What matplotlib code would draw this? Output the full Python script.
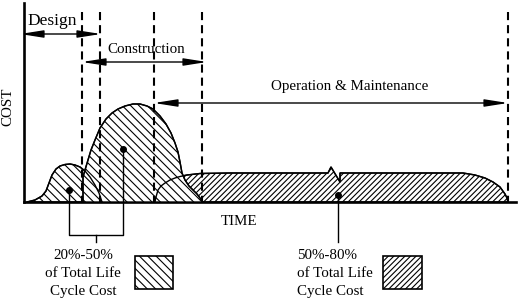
import matplotlib
matplotlib.use('Agg')
import matplotlib.pyplot as plt
from matplotlib.patches import Rectangle

plt.rcParams['font.family'] = ['Liberation Serif', 'DejaVu Serif']
plt.rcParams['hatch.linewidth'] = 0.8

# ---- data (schematic units: time, cost) ----
design_time = [3, 11, 18, 22, 25, 28, 32, 36, 41, 46, 51, 56, 61, 66, 71, 75, 78]
design_cost = [0, 2, 6, 11, 19, 27, 33, 36, 37.5, 38, 37, 35, 31, 25, 17, 9, 0]

constr_time = [59, 59, 61, 64, 67, 71, 76, 82, 88, 94, 101, 109, 116, 123, 129, 136,
               142, 147, 151, 154, 156, 158, 161, 165, 169, 173, 176, 179]
constr_cost = [0, 25, 32, 42, 52, 62, 74, 83, 89, 93, 96, 98, 98, 96, 93, 86,
               78, 69, 59, 50, 40, 29, 22, 16, 12, 8, 4, 0]

om_time = [131, 132, 134, 137, 141, 146, 151, 156, 163, 176, 206, 304, 307, 316, 316,
           439, 451, 461, 469, 476, 481, 483, 484]
om_cost = [0, 5, 12, 16, 19, 22, 24, 25.5, 27, 28.5, 29, 29, 35, 20, 29,
           29, 27, 24, 20, 15, 8, 4, 0]

phase_bounds = [58, 76, 130, 178, 484]
dot_time = [45, 99, 314]
dot_cost = [12, 53, 7]

phase_labels = ['Design', 'Construction', 'Operation & Maintenance']
share_labels = ['20%-50%', '50%-80%']

HATCH_EARLY = '\\' * 4
HATCH_OM = '/' * 6

W, H = 523, 304
fig = plt.figure(figsize=(W / 100, H / 100), dpi=100)

ax = fig.add_axes([24 / W, (H - 202) / H, (516 - 24) / W, (202 - 3) / H])
ax.set_xlim(0, 492)
ax.set_ylim(0, 199)
ax.patch.set_visible(False)
for s in ['top', 'right']:
    ax.spines[s].set_visible(False)
for s in ['left', 'bottom']:
    ax.spines[s].set_linewidth(1.9)
ax.set_xticks([])
ax.set_yticks([])

# fills
ax.fill(om_time, om_cost, facecolor='white', edgecolor='k', hatch=HATCH_OM, lw=1.0, zorder=1)
ax.fill(design_time, design_cost, facecolor='white', edgecolor='k', hatch=HATCH_EARLY, lw=1.0, zorder=2)
ax.fill(constr_time, constr_cost, facecolor='white', edgecolor='k', hatch=HATCH_EARLY, lw=1.0, zorder=3)
# outlines on top
for t, c in [(om_time, om_cost), (design_time, design_cost), (constr_time, constr_cost)]:
    ax.plot(t, c, color='k', lw=1.0, zorder=4, clip_on=False)

# phase boundaries (dashed)
for b in phase_bounds:
    ax.plot([b, b], [190, 0], color='k', lw=1.5, dashes=(3.9, 2.4), zorder=5, clip_on=False)

ax.plot(dot_time, dot_cost, 'o', color='k', ms=4, zorder=6, clip_on=False)

# ---- overlay in pixel coordinates for annotations ----
ov = fig.add_axes([0, 0, 1, 1])
ov.set_xlim(0, W)
ov.set_ylim(H, 0)
ov.axis('off')

def darrow(x1, x2, y):
    ov.annotate('', xy=(x2, y), xytext=(x1, y),
                arrowprops=dict(arrowstyle='<|-|>,head_length=1.4,head_width=0.22',
                                color='k', lw=1.0, shrinkA=0, shrinkB=0,
                                mutation_scale=10))

darrow(20, 101, 34)
darrow(82, 207, 62)
darrow(154, 508, 103)

ov.text(27, 25, phase_labels[0], fontsize=12.5, ha='left', va='baseline')
ov.text(146, 53, phase_labels[1], fontsize=10.8, ha='center', va='baseline')
ov.text(350, 90, phase_labels[2], fontsize=10.8, ha='center', va='baseline')
ov.text(239, 225, 'TIME', fontsize=10.8, ha='center', va='baseline')
ov.text(8, 107, 'COST', rotation=90, fontsize=10.8, ha='center', va='center')

# leader lines
lk = dict(color='k', lw=1.0)
ov.plot([69, 69, 123, 123], [190, 235, 235, 149], **lk)
ov.plot([96, 96], [235, 242], **lk)
ov.plot([338, 338], [195, 242], **lk)

# legend text
for ys, line in zip([259, 277, 295], [share_labels[0], 'of Total Life', 'Cycle Cost']):
    ov.text(83, ys, line, fontsize=10.8, ha='center', va='baseline')
for ys, line in zip([259, 277, 295], [share_labels[1], 'of Total Life', 'Cycle Cost']):
    ov.text(297, ys, line, fontsize=10.8, ha='left', va='baseline')

ov.add_patch(Rectangle((135, 256), 38, 33, facecolor='white', edgecolor='k',
                       hatch=HATCH_EARLY, lw=1.2))
ov.add_patch(Rectangle((383, 256), 39, 33, facecolor='white', edgecolor='k',
                       hatch=HATCH_OM, lw=1.2))

fig.savefig('out.png', dpi=100)
